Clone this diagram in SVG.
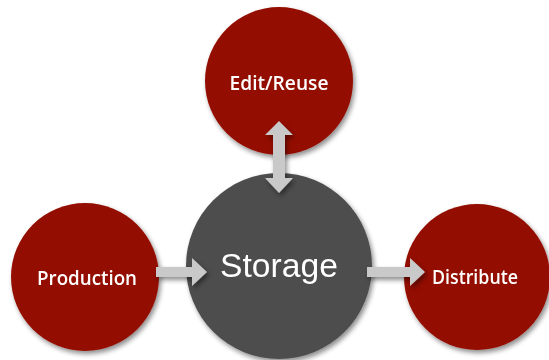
<svg xmlns="http://www.w3.org/2000/svg" width="549" height="360" viewBox="0 0 549 360">
<style>
.red{fill:#931100}
.gray{fill:#4d4d4d}
.arrow{fill:#c9c9c9}
.lbl{font-family:"Open Sans","Liberation Sans",sans-serif;font-weight:600;fill:#ffffff;text-anchor:middle}
.big{font-family:"Liberation Sans",Arial,sans-serif;fill:#ffffff;text-anchor:middle}
</style>
<defs>
<filter id="sh" x="-20%" y="-20%" width="140%" height="140%">
<feGaussianBlur in="SourceAlpha" stdDeviation="2.5"/>
<feOffset dx="2" dy="3" result="b"/>
<feComponentTransfer><feFuncA type="linear" slope="0.45"/></feComponentTransfer>
<feMerge><feMergeNode/><feMergeNode in="SourceGraphic"/></feMerge>
</filter>
</defs>
<g id="edit-reuse" filter="url(#sh)">
<circle class="red" cx="279" cy="81" r="74"/>
<text class="lbl" x="279" y="90" font-size="19" textLength="99" lengthAdjust="spacingAndGlyphs">Edit/Reuse</text>
</g>
<g id="production" filter="url(#sh)">
<circle class="red" cx="85" cy="277" r="74"/>
<text class="lbl" x="87" y="285" font-size="19" textLength="100" lengthAdjust="spacingAndGlyphs">Production</text>
</g>
<g id="distribute" filter="url(#sh)">
<circle class="red" cx="477" cy="277" r="73"/>
<text class="lbl" x="475" y="284" font-size="19" textLength="86" lengthAdjust="spacingAndGlyphs">Distribute</text>
</g>
<g id="storage" filter="url(#sh)">
<circle class="gray" cx="279" cy="266" r="93"/>
<text class="big" x="279" y="277" font-size="33" textLength="118" lengthAdjust="spacingAndGlyphs">Storage</text>
</g>
<g id="connectors" filter="url(#sh)">
<polygon class="arrow" points="156,267 192,267 192,258 207,272 192,286 192,277 156,277"/>
<polygon class="arrow" points="367,267 410,267 410,258 425,272 410,286 410,277 367,277"/>
<polygon class="arrow" points="279,121 293,135 285,135 285,178 293,178 279,193 265,178 273,178 273,135 265,135"/>
</g>
</svg>
